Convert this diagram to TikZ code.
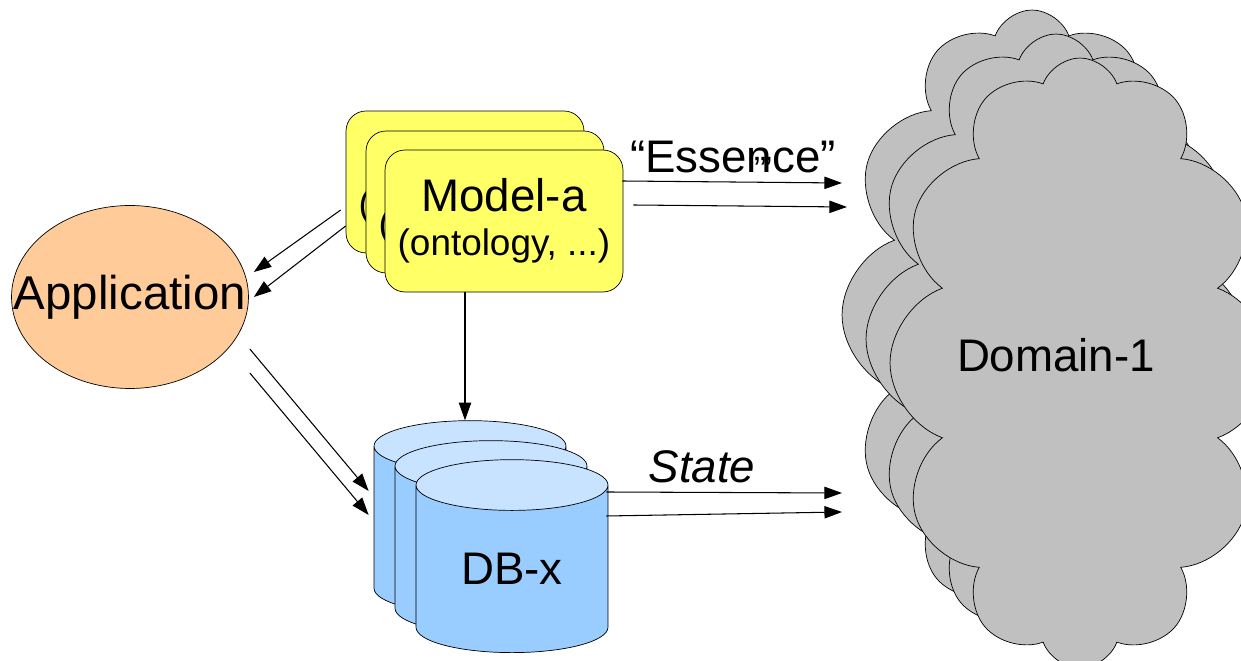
\documentclass[tikz,border=0pt]{standalone}
\usepackage{fontspec}
\setmainfont{Liberation Sans}
\usetikzlibrary{positioning,shapes.geometric,shapes.symbols,arrows.meta,calc}
\definecolor{appfill}{HTML}{FFCC99}
\definecolor{modelfill}{HTML}{FFFF66}
\definecolor{dbbody}{HTML}{99CCFF}
\definecolor{dbtop}{HTML}{C7E3FF}
\definecolor{cloudgray}{HTML}{C0C0C0}

\begin{document}
\begin{tikzpicture}[x=0.02cm, y=-0.02cm,
  every node/.style={font=\fontsize{26}{30}\selectfont},
  modelbox/.style={draw, fill=modelfill, rounded corners=0.4cm, minimum width=4.76cm, minimum height=2.84cm, align=center, inner sep=0pt},
  dbcyl/.style={draw, cylinder, shape border rotate=90, aspect=0.5, minimum width=3.84cm, minimum height=3.86cm, cylinder uses custom fill, cylinder body fill=dbbody, cylinder end fill=dbtop, inner sep=0pt},
  domcloud/.style={draw, cloud, cloud puffs=12, cloud puff arc=140, cloud ignores aspect, fill=cloudgray, minimum width=7.6cm, minimum height=12.2cm},
  arr/.style={-{Triangle[length=10pt,width=7pt]}, line width=0.6pt}]
  \useasboundingbox (0,0) rectangle (1241,661);
  \clip (0,0) rectangle (1241,661);
  % the domain, three clouds on top of one another
  \node[domcloud] (domc) at (1032,315) {};
  \node[domcloud] (domb) at (1056,339) {};
  \node[domcloud, label={[xshift=-0.48cm, yshift=0.16cm]center:Domain-1}] (doma) at (1080,363) {};
  % models
  \node[modelbox] (modelc) at (465,182) {Model-a\\[-5pt]{\fontsize{21}{23}\selectfont (ontology, ...)}};
  \node[modelbox] (modelb) at (485,202) {Model-a\\[-5pt]{\fontsize{21}{23}\selectfont (ontology, ...)}};
  \node[modelbox] (model) at (504,221) {Model-a\\[-5pt]{\fontsize{21}{23}\selectfont (ontology, ...)}};
  % databases
  \node[dbcyl] (dbc) at (470,530) {DB-x};
  \node[dbcyl] (dbb) at (491,550) {DB-x};
  \node[dbcyl] (db) at (512,569) {DB-x};
  % application
  \node[ellipse, draw, fill=appfill, minimum width=4.74cm, minimum height=3.66cm, inner sep=0pt,
    label={[font=\fontsize{27}{30}\selectfont]center:Application}] (app) at (130,297) {};
  % free ends at the domain
  \coordinate (essa) at (842,183);
  \coordinate (essb) at (847,207);
  \coordinate (sta) at (842,493);
  \coordinate (stb) at (842,512);
  \coordinate (dbtip) at ($(dbc.north)+(-5,0)$);
  % connectors
  \draw[arr] ($(modelc.west)+(-5,28)$) -- ($(app.east)+(5,-25)$);
  \draw[arr] ($(modelc.west)+(0,44)$) -- ($(app.east)+(5,0)$);
  \draw[arr] ($(app.east)+(1,52)$) -- ($(dbc.west)+(-5,-39)$);
  \draw[arr] ($(app.east)+(1,76)$) -- ($(dbc.west)+(-5,-15)$);
  \draw[arr] (model.south -| dbtip) -- (dbtip);
  \draw[arr] ($(model.east)+(-1,-40)$) -- (essa);
  \draw[arr] ($(model.east)+(10,-16)$) -- (essb);
  \draw[arr] ($(db.east)+(-2,-77)$) -- (sta);
  \draw[arr] ($(db.east)+(-2,-53)$) -- (stb);
  % labels
  \node (essence) at (733,157) {“Essence”};
  \node[font=\fontsize{20}{20}\selectfont, inner sep=0pt] (quirk) at (760,169) {””};
  \node[font=\fontsize{26}{30}\selectfont\itshape] (state) at (702,467) {State};
\end{tikzpicture}
\end{document}
